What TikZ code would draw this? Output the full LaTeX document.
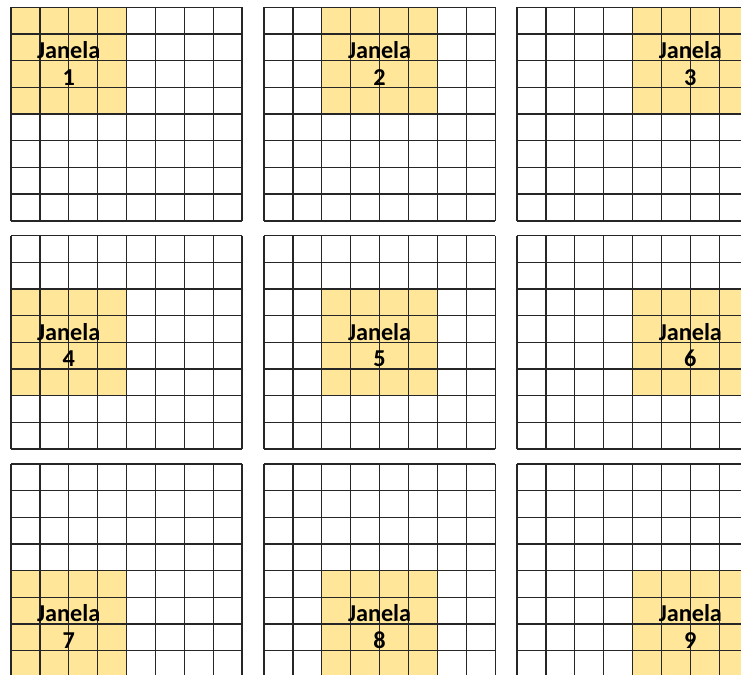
\documentclass[tikz,border=0pt]{standalone}
\usepackage{fontspec}
\setmainfont{Carlito}
\usepackage{tikz}
\usetikzlibrary{positioning}
\definecolor{janelafill}{HTML}{FFE699}
\definecolor{gridline}{HTML}{262626}

\begin{document}
\begin{tikzpicture}[x=0.02cm, y=-0.02cm,
  cell/.style={draw=gridline, line width=0.75pt},
  janela/.style={fill=janelafill},
  rotulo/.style={font=\bfseries\fontsize{13.8}{15.3}\selectfont, align=center, text=black, inner sep=0pt}
]
  \useasboundingbox (0,0) rectangle (741,675);
  \clip (0,0) rectangle (741,675);
  \fill[white] (0,0) rectangle (741,675);

  % 3x3 panels, each an 8x8 grid with a 4x4 window moving by 2 cells
  \foreach \n in {1,...,9} {
    \pgfmathtruncatemacro{\c}{mod(\n-1,3)}
    \pgfmathtruncatemacro{\r}{div(\n-1,3)}
    \begin{scope}[shift={(11+253*\c, 7.3+228.3*\r)}, x=0.578cm, y=-0.534cm]
      \fill[janela] (2*\c,2*\r) rectangle ++(4,4);
      \foreach \i in {0,...,8} {
        \draw[cell] (\i,0) -- (\i,8);
        \draw[cell] (0,\i) -- (8,\i);
      }
      \node[rotulo] (janela\n) at (2*\c+2, 2*\r+2.1) {Janela\\\n};
    \end{scope}
  }
\end{tikzpicture}
\end{document}
